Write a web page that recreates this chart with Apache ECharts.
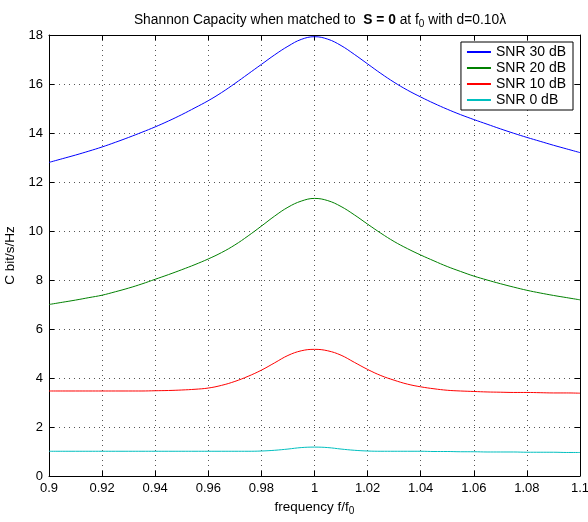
<!DOCTYPE html>
<html>
<head>
<meta charset="utf-8">
<script src="https://cdn.jsdelivr.net/npm/echarts@6/dist/echarts.min.js"></script>
<style>
  html, body { margin: 0; padding: 0; background: #fff; }
  #main { width: 588px; height: 522px; }
</style>
</head>
<body>
<div id="main"></div>
<script>
// f/f0 sample points
var freq = [0.900, 0.905, 0.910, 0.915, 0.920, 0.925, 0.930, 0.935, 0.940, 0.945,
  0.950, 0.955, 0.960, 0.965, 0.970, 0.975, 0.980, 0.985, 0.990, 0.995,
  1.000, 1.005, 1.010, 1.015, 1.020, 1.025, 1.030, 1.035, 1.040, 1.045,
  1.050, 1.055, 1.060, 1.065, 1.070, 1.075, 1.080, 1.085, 1.090, 1.095, 1.100];
var snr30 = [12.80, 12.95, 13.10, 13.26, 13.43, 13.62, 13.82, 14.03, 14.25, 14.49,
  14.75, 15.03, 15.32, 15.65, 16.02, 16.41, 16.80, 17.19, 17.54, 17.82,
  17.93, 17.83, 17.57, 17.21, 16.82, 16.43, 16.07, 15.75, 15.47, 15.21,
  14.97, 14.75, 14.55, 14.36, 14.17, 13.99, 13.82, 13.66, 13.50, 13.35, 13.20];
var snr20 = [7.00, 7.09, 7.18, 7.28, 7.38, 7.52, 7.67, 7.84, 8.03, 8.22,
  8.42, 8.63, 8.86, 9.12, 9.43, 9.80, 10.20, 10.61, 10.97, 11.22,
  11.33, 11.24, 11.00, 10.66, 10.28, 9.91, 9.57, 9.28, 9.02, 8.78,
  8.55, 8.35, 8.16, 8.00, 7.85, 7.71, 7.58, 7.47, 7.37, 7.28, 7.19];
var snr10 = [3.47, 3.47, 3.47, 3.47, 3.47, 3.47, 3.47, 3.47, 3.48, 3.49,
  3.51, 3.54, 3.59, 3.70, 3.86, 4.07, 4.32, 4.62, 4.92, 5.11,
  5.17, 5.11, 4.93, 4.64, 4.35, 4.10, 3.91, 3.75, 3.64, 3.56,
  3.50, 3.47, 3.45, 3.43, 3.42, 3.41, 3.41, 3.40, 3.39, 3.39, 3.38];
var snr0 = [1.01, 1.01, 1.01, 1.01, 1.01, 1.01, 1.01, 1.01, 1.01, 1.01,
  1.01, 1.01, 1.01, 1.01, 1.01, 1.01, 1.02, 1.05, 1.10, 1.16,
  1.18, 1.16, 1.10, 1.05, 1.02, 1.01, 1.01, 1.01, 1.01, 1.00,
  1.00, 0.99, 0.99, 0.98, 0.98, 0.98, 0.97, 0.97, 0.97, 0.96, 0.96];
var names = ['SNR 30 dB', 'SNR 20 dB', 'SNR 10 dB', 'SNR 0 dB'];
var colors = ['#0000ff', '#008000', '#ff0000', '#00bfbf'];

var FONT = 'Liberation Sans, Arial, sans-serif';

function pairs(ys) {
  var out = [];
  for (var i = 0; i < freq.length; i++) {
    out.push([freq[i], ys[i]]);
  }
  return out;
}

var myChart = echarts.init(document.getElementById('main'));
var gridLine = { show: true, lineStyle: { color: '#555', type: [1, 4], width: 1 } };
var tickIn = { show: true, inside: true, length: 5, lineStyle: { color: '#000' } };
var lineAx = { show: true, onZero: false, lineStyle: { color: '#000', width: 1 } };

var option = {
  animation: false,
  title: {
    text: 'Shannon Capacity when matched to  {b|S = 0} at f{sub|0} with d=0.10λ',
    left: 315,
    textAlign: 'center',
    top: 7,
    textStyle: {
      fontFamily: FONT, fontSize: 13.8, fontWeight: 'normal', color: '#000',
      rich: {
        b: { fontFamily: FONT, fontSize: 13.8, fontWeight: 'bold', color: '#000' },
        sub: { fontFamily: FONT, fontSize: 10, color: '#000', verticalAlign: 'bottom', padding: [7, 0, 0, 0] }
      }
    }
  },
  legend: {
    orient: 'vertical',
    right: 15,
    top: 42,
    data: names,
    icon: 'rect',
    itemWidth: 24,
    itemHeight: 2,
    itemGap: 2,
    padding: [3, 7, 3, 6],
    borderColor: '#000',
    borderWidth: 1,
    backgroundColor: '#fff',
    textStyle: { fontFamily: FONT, fontSize: 14, color: '#000', lineHeight: 14 }
  },
  grid: { left: 49, right: 8, top: 35, bottom: 46, containLabel: false, outerBoundsMode: 'none' },
  xAxis: [{
    type: 'value', min: 0.9, max: 1.1, interval: 0.02,
    name: 'frequency f/f{sub|0}', nameLocation: 'middle', nameGap: 20,
    nameTextStyle: {
      fontFamily: FONT, fontSize: 13.5, color: '#000',
      rich: { sub: { fontFamily: FONT, fontSize: 10, color: '#000', padding: [9, 0, 0, 0] } }
    },
    axisLine: lineAx, axisTick: tickIn, splitLine: gridLine,
    axisLabel: {
      fontFamily: FONT, fontSize: 13, color: '#000', margin: 6,
      formatter: function (v) { return String(+v.toFixed(2)); }
    }
  }, {
    type: 'value', min: 0.9, max: 1.1, interval: 0.02, position: 'top',
    axisLine: lineAx, axisTick: tickIn, splitLine: { show: false }, axisLabel: { show: false }
  }],
  yAxis: [{
    type: 'value', min: 0, max: 18, interval: 2,
    name: 'C bit/s/Hz', nameLocation: 'middle', nameGap: 25,
    nameTextStyle: { fontFamily: FONT, fontSize: 13.5, color: '#000' },
    axisLine: lineAx, axisTick: tickIn, splitLine: gridLine,
    axisLabel: { fontFamily: FONT, fontSize: 13, color: '#000', margin: 6 }
  }, {
    type: 'value', min: 0, max: 18, interval: 2, position: 'right',
    axisLine: lineAx, axisTick: tickIn, splitLine: { show: false }, axisLabel: { show: false }
  }],
  series: [snr30, snr20, snr10, snr0].map(function (ys, i) {
    return {
      name: names[i],
      type: 'line',
      data: pairs(ys),
      smooth: 0.4,
      showSymbol: false,
      symbol: 'none',
      color: colors[i],
      lineStyle: { color: colors[i], width: 1 }
    };
  })
};
myChart.setOption(option);
</script>
</body>
</html>
